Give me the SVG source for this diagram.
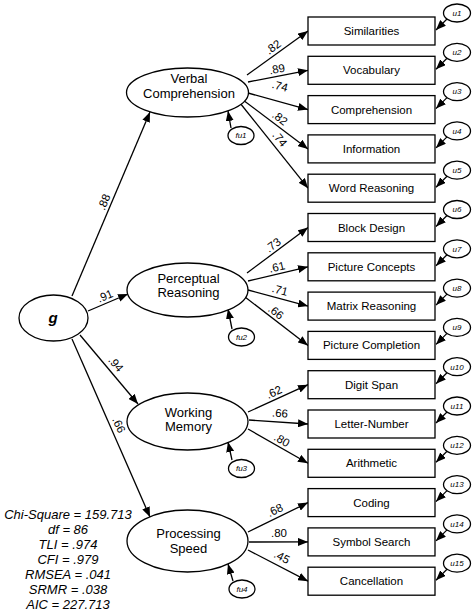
<svg xmlns="http://www.w3.org/2000/svg" width="474" height="611" viewBox="0 0 474 611">
<defs>
<marker id="ah" viewBox="0 0 10 8" refX="10" refY="4" markerWidth="10" markerHeight="8" markerUnits="userSpaceOnUse" orient="auto" preserveAspectRatio="none"><path d="M0,0 L10,4 L0,8 z" fill="#000"/></marker>
<style>
.n{fill:#fff;stroke:#000;stroke-width:1.3}
.c line{stroke:#000;stroke-width:1.3;marker-end:url(#ah)}
.t{font-family:"Liberation Sans",Arial,sans-serif;fill:#000;text-anchor:middle}
.bx{font-size:11.5px}
.fx{font-size:13px}
.lb{font-size:11.5px}
.sm{font-size:8px;font-style:italic}
.st{font-size:13px;font-style:italic}
</style>
</defs>
<rect width="474" height="611" fill="#fff"/>
<g id="connectors" class="c">
<line x1="72" y1="296" x2="150" y2="112"/>
<line x1="88" y1="311" x2="128" y2="294"/>
<line x1="80" y1="335" x2="138" y2="404"/>
<line x1="72" y1="339" x2="150" y2="517"/>
<line x1="247" y1="75" x2="308" y2="31"/>
<line x1="248" y1="82" x2="308" y2="70.3"/>
<line x1="248" y1="93" x2="308" y2="109.6"/>
<line x1="243" y1="100" x2="308" y2="148.9"/>
<line x1="240" y1="103" x2="308" y2="188.2"/>
<line x1="247" y1="273" x2="308" y2="227.5"/>
<line x1="248" y1="281" x2="308" y2="266.8"/>
<line x1="248" y1="290" x2="308" y2="306.1"/>
<line x1="245" y1="297" x2="308" y2="345.4"/>
<line x1="248" y1="412" x2="308" y2="384.7"/>
<line x1="249" y1="420" x2="308" y2="424"/>
<line x1="248" y1="429" x2="308" y2="463.3"/>
<line x1="248" y1="532" x2="308" y2="502.6"/>
<line x1="249" y1="542" x2="308" y2="541.9"/>
<line x1="248" y1="550" x2="308" y2="581.2"/>
<line x1="231" y1="128" x2="228" y2="111"/>
<line x1="232" y1="329" x2="228" y2="309"/>
<line x1="232" y1="460" x2="228" y2="442"/>
<line x1="233" y1="581" x2="228" y2="564"/>
<line x1="447" y1="19" x2="436" y2="30"/>
<line x1="447" y1="58.3" x2="436" y2="69.3"/>
<line x1="447" y1="97.6" x2="436" y2="108.6"/>
<line x1="447" y1="136.9" x2="436" y2="147.9"/>
<line x1="447" y1="176.2" x2="436" y2="187.2"/>
<line x1="447" y1="215.5" x2="436" y2="226.5"/>
<line x1="447" y1="254.8" x2="436" y2="265.8"/>
<line x1="447" y1="294.1" x2="436" y2="305.1"/>
<line x1="447" y1="333.4" x2="436" y2="344.4"/>
<line x1="447" y1="372.7" x2="436" y2="383.7"/>
<line x1="447" y1="412" x2="436" y2="423"/>
<line x1="447" y1="451.3" x2="436" y2="462.3"/>
<line x1="447" y1="490.6" x2="436" y2="501.6"/>
<line x1="447" y1="529.9" x2="436" y2="540.9"/>
<line x1="447" y1="569.2" x2="436" y2="580.2"/>
</g>
<g id="loadings" class="t lb">
<text transform="translate(104,202) rotate(-67)" dy="0.35em">.88</text>
<text transform="translate(105,296) rotate(-23)" dy="0.35em">.91</text>
<text transform="translate(116,364) rotate(50)" dy="0.35em">.94</text>
<text transform="translate(119,425) rotate(66)" dy="0.35em">.66</text>
<text transform="translate(273,47) rotate(-36)" dy="0.35em">.82</text>
<text transform="translate(277,69) rotate(-11)" dy="0.35em">.89</text>
<text transform="translate(280,86) rotate(15)" dy="0.35em">.74</text>
<text transform="translate(280,118) rotate(37)" dy="0.35em">.82</text>
<text transform="translate(280,139) rotate(51)" dy="0.35em">.74</text>
<text transform="translate(273,245) rotate(-37)" dy="0.35em">.73</text>
<text transform="translate(277,267) rotate(-13)" dy="0.35em">.61</text>
<text transform="translate(280,290) rotate(15)" dy="0.35em">.71</text>
<text transform="translate(276,312) rotate(37)" dy="0.35em">.66</text>
<text transform="translate(274,392) rotate(-24)" dy="0.35em">.62</text>
<text transform="translate(280,413) rotate(4)" dy="0.35em">.66</text>
<text transform="translate(282,440) rotate(30)" dy="0.35em">.80</text>
<text transform="translate(275,510) rotate(-26)" dy="0.35em">.68</text>
<text transform="translate(279,533)" dy="0.35em">.80</text>
<text transform="translate(282,557) rotate(28)" dy="0.35em">.45</text>
</g>
<g id="g">
<ellipse class="n" cx="53.5" cy="318" rx="34.5" ry="23"/>
<text class="t" x="53" y="323" font-size="15" font-weight="bold" font-style="italic">g</text>
</g>
<g id="VC">
<ellipse class="n" cx="187.5" cy="92.5" rx="61" ry="24.5"/>
<text class="t fx" x="189" y="83">Verbal</text>
<text class="t fx" x="189" y="97.5">Comprehension</text>
</g>
<g id="PR">
<ellipse class="n" cx="187.5" cy="290" rx="60.5" ry="27"/>
<text class="t fx" x="188.5" y="283">Perceptual</text>
<text class="t fx" x="188.5" y="297">Reasoning</text>
</g>
<g id="WM">
<ellipse class="n" cx="187.5" cy="421.5" rx="60.5" ry="28.5"/>
<text class="t fx" x="188.5" y="416.5">Working</text>
<text class="t fx" x="188.5" y="431">Memory</text>
</g>
<g id="PS">
<ellipse class="n" cx="187.5" cy="541" rx="60.5" ry="31"/>
<text class="t fx" x="188.5" y="538">Processing</text>
<text class="t fx" x="188.5" y="553">Speed</text>
</g>
<g id="fu1"><ellipse class="n" cx="241" cy="135.5" rx="13" ry="9"/><text class="t sm" x="241" y="138.3">fu1</text></g>
<g id="fu2"><ellipse class="n" cx="241.5" cy="337" rx="13" ry="9"/><text class="t sm" x="241.5" y="339.8">fu2</text></g>
<g id="fu3"><ellipse class="n" cx="241.5" cy="468.5" rx="13" ry="9"/><text class="t sm" x="241.5" y="471.3">fu3</text></g>
<g id="fu4"><ellipse class="n" cx="242" cy="589" rx="13" ry="9"/><text class="t sm" x="242" y="591.8">fu4</text></g>
<g id="b1"><rect class="n" x="308" y="17" width="127" height="28"/><text class="t bx" x="371.5" y="35">Similarities</text></g>
<g id="b2"><rect class="n" x="308" y="56.3" width="127" height="28"/><text class="t bx" x="371.5" y="74.3">Vocabulary</text></g>
<g id="b3"><rect class="n" x="308" y="95.6" width="127" height="28"/><text class="t bx" x="371.5" y="113.6">Comprehension</text></g>
<g id="b4"><rect class="n" x="308" y="134.9" width="127" height="28"/><text class="t bx" x="371.5" y="152.9">Information</text></g>
<g id="b5"><rect class="n" x="308" y="174.2" width="127" height="28"/><text class="t bx" x="371.5" y="192.2">Word Reasoning</text></g>
<g id="b6"><rect class="n" x="308" y="213.5" width="127" height="28"/><text class="t bx" x="371.5" y="231.5">Block Design</text></g>
<g id="b7"><rect class="n" x="308" y="252.8" width="127" height="28"/><text class="t bx" x="371.5" y="270.8">Picture Concepts</text></g>
<g id="b8"><rect class="n" x="308" y="292.1" width="127" height="28"/><text class="t bx" x="371.5" y="310.1">Matrix Reasoning</text></g>
<g id="b9"><rect class="n" x="308" y="331.4" width="127" height="28"/><text class="t bx" x="371.5" y="349.4">Picture Completion</text></g>
<g id="b10"><rect class="n" x="308" y="370.7" width="127" height="28"/><text class="t bx" x="371.5" y="388.7">Digit Span</text></g>
<g id="b11"><rect class="n" x="308" y="410" width="127" height="28"/><text class="t bx" x="371.5" y="428">Letter-Number</text></g>
<g id="b12"><rect class="n" x="308" y="449.3" width="127" height="28"/><text class="t bx" x="371.5" y="467.3">Arithmetic</text></g>
<g id="b13"><rect class="n" x="308" y="488.6" width="127" height="28"/><text class="t bx" x="371.5" y="506.6">Coding</text></g>
<g id="b14"><rect class="n" x="308" y="527.9" width="127" height="28"/><text class="t bx" x="371.5" y="545.9">Symbol Search</text></g>
<g id="b15"><rect class="n" x="308" y="567.2" width="127" height="28"/><text class="t bx" x="371.5" y="585.2">Cancellation</text></g>
<g id="u1"><ellipse class="n" cx="457" cy="13" rx="13.5" ry="9"/><text class="t sm" x="457" y="15.8">u1</text></g>
<g id="u2"><ellipse class="n" cx="457" cy="52.3" rx="13.5" ry="9"/><text class="t sm" x="457" y="55.1">u2</text></g>
<g id="u3"><ellipse class="n" cx="457" cy="91.6" rx="13.5" ry="9"/><text class="t sm" x="457" y="94.4">u3</text></g>
<g id="u4"><ellipse class="n" cx="457" cy="130.9" rx="13.5" ry="9"/><text class="t sm" x="457" y="133.7">u4</text></g>
<g id="u5"><ellipse class="n" cx="457" cy="170.2" rx="13.5" ry="9"/><text class="t sm" x="457" y="173">u5</text></g>
<g id="u6"><ellipse class="n" cx="457" cy="209.5" rx="13.5" ry="9"/><text class="t sm" x="457" y="212.3">u6</text></g>
<g id="u7"><ellipse class="n" cx="457" cy="248.8" rx="13.5" ry="9"/><text class="t sm" x="457" y="251.6">u7</text></g>
<g id="u8"><ellipse class="n" cx="457" cy="288.1" rx="13.5" ry="9"/><text class="t sm" x="457" y="290.9">u8</text></g>
<g id="u9"><ellipse class="n" cx="457" cy="327.4" rx="13.5" ry="9"/><text class="t sm" x="457" y="330.2">u9</text></g>
<g id="u10"><ellipse class="n" cx="457" cy="366.7" rx="13.5" ry="9"/><text class="t sm" x="457" y="369.5">u10</text></g>
<g id="u11"><ellipse class="n" cx="457" cy="406" rx="13.5" ry="9"/><text class="t sm" x="457" y="408.8">u11</text></g>
<g id="u12"><ellipse class="n" cx="457" cy="445.3" rx="13.5" ry="9"/><text class="t sm" x="457" y="448.1">u12</text></g>
<g id="u13"><ellipse class="n" cx="457" cy="484.6" rx="13.5" ry="9"/><text class="t sm" x="457" y="487.4">u13</text></g>
<g id="u14"><ellipse class="n" cx="457" cy="523.9" rx="13.5" ry="9"/><text class="t sm" x="457" y="526.7">u14</text></g>
<g id="u15"><ellipse class="n" cx="457" cy="563.2" rx="13.5" ry="9"/><text class="t sm" x="457" y="566">u15</text></g>
<g id="fit" class="t st">
<text x="68" y="519">Chi-Square = 159.713</text>
<text x="68" y="534">df = 86</text>
<text x="68" y="549">TLI = .974</text>
<text x="68" y="564">CFI = .979</text>
<text x="68" y="579">RMSEA = .041</text>
<text x="68" y="594">SRMR = .038</text>
<text x="68" y="609">AIC = 227.713</text>
</g>
</svg>
